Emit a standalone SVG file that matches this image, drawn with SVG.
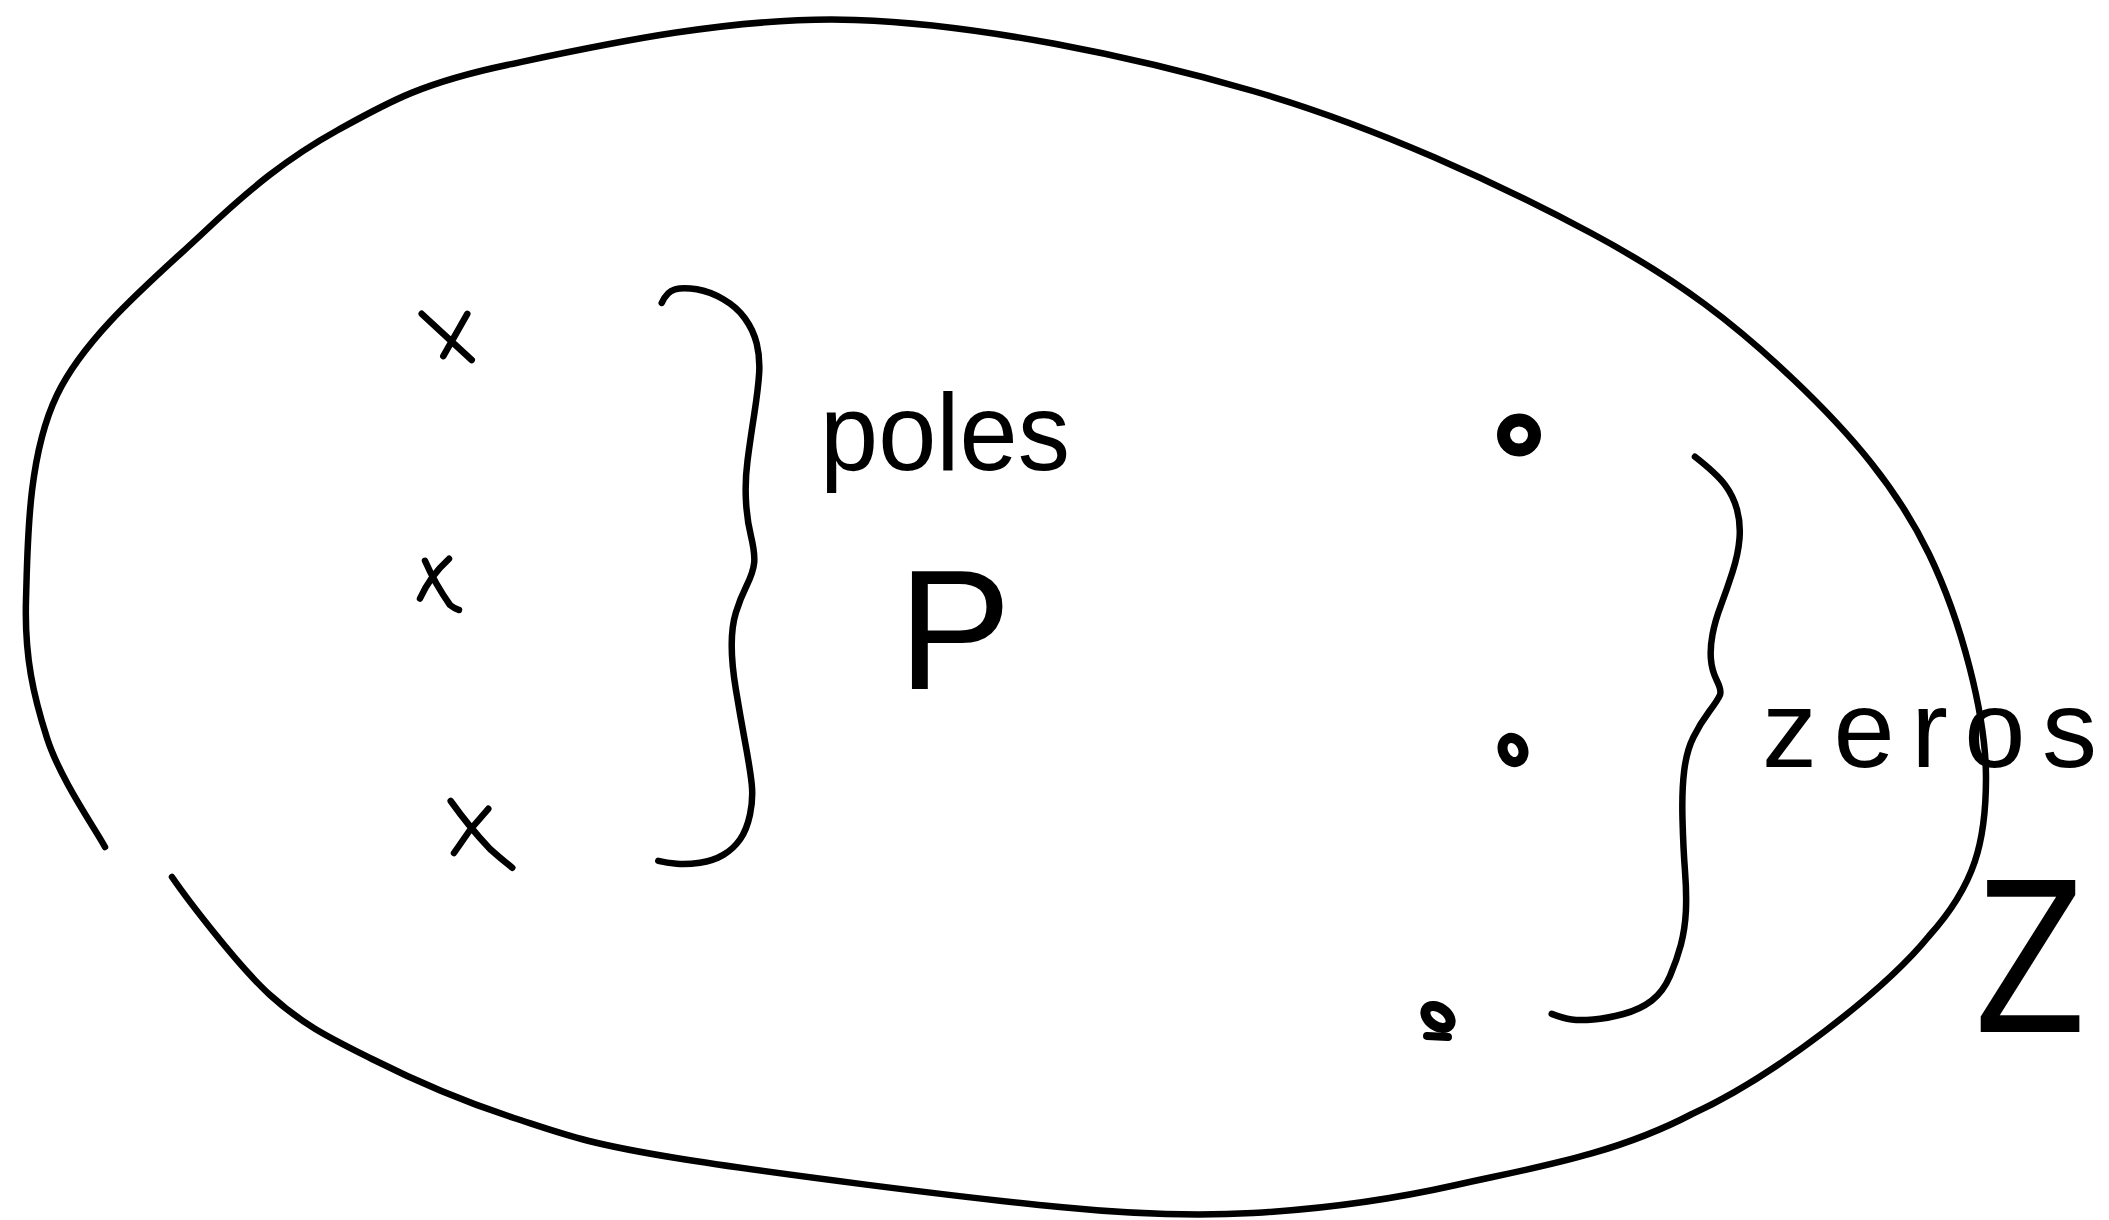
<svg xmlns="http://www.w3.org/2000/svg" width="2109" height="1220" viewBox="0 0 2109 1220">
<style>
.ink{fill:none;stroke:#000;stroke-width:6.5;stroke-linecap:round;stroke-linejoin:round}
.lbl{font-family:"Liberation Sans",Arial,sans-serif;fill:#000}
</style>
<rect width="2109" height="1220" fill="#fff"/>
<g id="contour">
<path class="ink" d="M105,847 C95.3,828.8 60.2,779.2 47,738 C33.8,696.8 24.3,657.2 26,600 C27.7,542.8 27.5,456.2 57,395 C86.5,333.8 156.2,277.2 203,233 C249.8,188.8 287.3,158 338,130 C388.7,102 420.8,83.3 507,65 C593.2,46.7 730.7,15.7 855,20 C979.3,24.3 1130.3,55.5 1253,91 C1375.7,126.5 1500.8,184.8 1591,233 C1681.2,281.2 1737.7,326.5 1794,380 C1850.3,433.5 1897,487.7 1929,554 C1961,620.3 1986,714.3 1986,778 C1986,841.7 1975,885 1929,936 C1885,990 1775,1076 1692,1114 C1613.2,1155.5 1529.2,1168.5 1456,1185 C1382.8,1201.5 1319,1209.3 1253,1213 C1187,1216.7 1120,1213 1060,1207 C963.8,1197.8 767,1172.8 676,1158 C585,1143.2 564.7,1134.5 514,1118 C463.3,1101.5 412.7,1079.5 372,1059 C331.3,1038.5 303.3,1025.3 270,995 C236.7,964.7 185,896 172,877"/>
</g>
<g id="poles">
<g id="pole1"><path class="ink" d="M421.7,313.8 L471.7,360 M467.3,313.8 L443.3,356.2"/></g>
<g id="pole2"><path class="ink" d="M425,560.8 Q435,583.8 450,605 Q455,609 459,610 M449,558.8 Q430,576 420,598.5"/></g>
<g id="pole3"><path class="ink" d="M450.7,801 Q470,828 490,849 Q500,858 512.3,867.7 M488.3,808.8 L470,830 L454,853"/></g>
</g>
<g id="zeros">
<g id="zero1"><ellipse cx="1519" cy="435" rx="15.5" ry="15" fill="none" stroke="#000" stroke-width="13"/></g>
<g id="zero2"><ellipse cx="1513" cy="750" rx="10" ry="12.5" fill="none" stroke="#000" stroke-width="10" transform="rotate(-25 1513 750)"/></g>
<g id="zero3"><ellipse cx="1438" cy="1017" rx="14" ry="9" fill="none" stroke="#000" stroke-width="10" transform="rotate(35 1438 1017)"/><path d="M1427,1036 L1448,1037" fill="none" stroke="#000" stroke-width="8" stroke-linecap="round"/></g>
</g>
<g id="braces">
<path id="brace-poles" class="ink" d="M661.7,303 Q666.7,291.5 675,289.3 Q683.3,287 696.7,289.3 Q710,291.5 723.3,299.3 Q736.7,307 745,318.5 Q753.3,330 756.7,343.5 Q760,357 759.2,372.4 Q758.3,387.7 754.2,414.6 Q750,441.5 747.5,460.8 Q745,480 745.9,499.3 Q746.7,518.5 750.9,535.8 Q755,553 754.2,562.5 Q753.3,572 746.7,585.5 Q740,599 735.9,612.5 Q731.7,626 731.7,645.3 Q731.7,664.6 735.9,689.6 Q740,714.6 745,741.6 Q750,768.5 751.7,783.8 Q753.3,799 750,814.5 Q746.7,830 740,839.5 Q733.3,849 723.3,854.9 Q713.3,860.8 700,862.7 Q686.7,864.6 676.7,863.7 Q666.7,862.7 658.3,860.8"/>
<path id="brace-zeros" class="ink" d="M1695,456.8 Q1716.7,473.8 1725,484.9 Q1733.3,496 1737,509.5 Q1740.7,522.9 1739.5,538.5 Q1738.3,554 1732.5,571.9 Q1726.7,589.8 1720.9,605.4 Q1715,621 1712.5,634.5 Q1710,647.9 1710.9,659 Q1711.7,670 1716.7,680.2 Q1721.7,690.3 1720,694.8 Q1718.3,699.2 1709.2,711.5 Q1700,723.8 1693.4,737.2 Q1686.7,750.5 1684.2,770.6 Q1681.7,790.7 1682.5,819.8 Q1683.3,848.8 1685,871.1 Q1686.7,893.4 1685.9,911.2 Q1685,929 1680.9,944.7 Q1676.7,960.4 1670,976 Q1663.3,991.6 1651.7,1000.6 Q1640,1009.5 1623.4,1014 Q1606.7,1018.4 1593.4,1019.5 Q1580,1020.6 1571.7,1019.5 Q1563.3,1018.4 1551.7,1013.9"/>
</g>
<g id="labels">
<text id="label-poles" class="lbl" x="820" y="470" font-size="110" textLength="250" lengthAdjust="spacingAndGlyphs">poles</text>
<text id="label-P" class="lbl" x="898" y="689" font-size="170">P</text>
<text id="label-zeros" class="lbl" x="1762" y="767" font-size="110" textLength="335" lengthAdjust="spacing">zeros</text>
<text id="label-Z" class="lbl" x="1975" y="1032" font-size="220" textLength="110" lengthAdjust="spacingAndGlyphs">Z</text>
</g>
</svg>
